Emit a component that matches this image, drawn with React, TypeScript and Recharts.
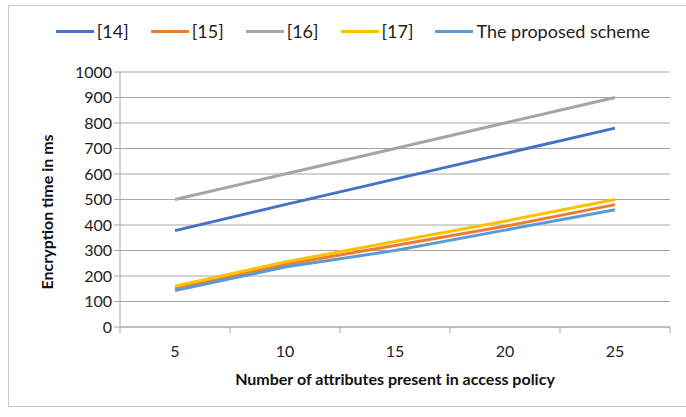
import React from "react";
import {
  LineChart,
  Line,
  XAxis,
  YAxis,
  CartesianGrid,
  Legend,
} from "recharts";

const attributes = [5, 10, 15, 20, 25];
const ref14 = [378, 480, 580, 680, 780];
const ref15 = [150, 245, 320, 395, 480];
const ref16 = [500, 600, 700, 800, 900];
const ref17 = [160, 255, 335, 415, 500];
const proposed = [143, 235, 300, 380, 460];
const yTicks = [0, 100, 200, 300, 400, 500, 600, 700, 800, 900, 1000];

const series = [
  { key: "r14", name: "[14]", color: "#4472C4" },
  { key: "r15", name: "[15]", color: "#ED7D31" },
  { key: "r16", name: "[16]", color: "#A5A5A5" },
  { key: "r17", name: "[17]", color: "#FFC000" },
  { key: "prop", name: "The proposed scheme", color: "#5B9BD5" },
];

const data = attributes.map((a, i) => ({
  x: a,
  r14: ref14[i],
  r15: ref15[i],
  r16: ref16[i],
  r17: ref17[i],
  prop: proposed[i],
}));

const FONT = "Lato, 'Noto Sans', sans-serif";
const BAND = 110;

const LegendRow = () => (
  <div
    style={{
      display: "flex",
      justifyContent: "center",
      gap: 22,
      fontFamily: FONT,
      fontSize: 18,
      color: "#222",
      paddingLeft: 20,
    }}
  >
    {series.map((s) => (
      <div key={s.key} style={{ display: "flex", alignItems: "center" }}>
        <span
          style={{
            display: "inline-block",
            width: 38,
            height: 3,
            background: s.color,
            marginRight: 3,
          }}
        />
        {s.name}
      </div>
    ))}
  </div>
);

const XTick = (props: any) => {
  const { x, y, payload, index } = props;
  const last = index === attributes.length - 1;
  return (
    <g>
      <line x1={x - BAND / 2} x2={x - BAND / 2} y1={y - 8} y2={y - 2} stroke="#a6a6a6" />
      {last && (
        <line x1={x + BAND / 2} x2={x + BAND / 2} y1={y - 8} y2={y - 2} stroke="#a6a6a6" />
      )}
      <text x={x} y={y + 22} textAnchor="middle" fontSize={16} fill="#222" fontFamily={FONT}>
        {payload.value}
      </text>
    </g>
  );
};

export default function App() {
  return (
    <div
      style={{
        position: "absolute",
        left: 0,
        top: 0,
        width: 686,
        height: 417,
        background: "#fff",
      }}
    >
      <div
        style={{
          position: "absolute",
          left: 8,
          top: 5,
          width: 690,
          height: 400,
          border: "1px solid #c8c8c8",
        }}
      />
      <LineChart
        width={686}
        height={417}
        data={data}
        margin={{ top: 50, right: 16, bottom: 10, left: 35 }}
      >
        <CartesianGrid vertical={false} stroke="#a6a6a6" />
        <XAxis
          dataKey="x"
          scale="band"
          stroke="#a6a6a6"
          tickLine={false}
          tick={<XTick />}
          height={80}
          label={{
            value: "Number of attributes present in access policy",
            position: "insideBottom",
            offset: 22,
            fontSize: 16,
            fontWeight: 700,
            fill: "#111",
            fontFamily: FONT,
          }}
        />
        <YAxis
          domain={[0, 1000]}
          ticks={yTicks}
          interval={0}
          width={85}
          stroke="#a6a6a6"
          tickSize={6}
          tick={{ fontSize: 16, fill: "#222", fontFamily: FONT }}
          label={{
            value: "Encryption time in ms",
            angle: -90,
            position: "insideLeft",
            offset: 12,
            dy: 90,
            fontSize: 16,
            fontWeight: 700,
            fill: "#111",
            fontFamily: FONT,
          }}
        />
        <Legend
          verticalAlign="top"
          content={<LegendRow />}
          wrapperStyle={{ top: 20, left: 0, width: 686 }}
        />
        {series.map((s) => (
          <Line
            key={s.key}
            dataKey={s.key}
            name={s.name}
            stroke={s.color}
            strokeWidth={3}
            dot={false}
            isAnimationActive={false}
          />
        ))}
      </LineChart>
    </div>
  );
}
